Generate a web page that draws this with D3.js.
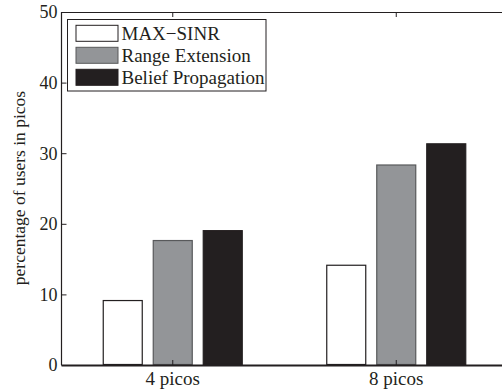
<!DOCTYPE html>
<html>
<head>
<meta charset="utf-8">
<script src="https://cdn.jsdelivr.net/npm/d3@7"></script>
<style>
	body { margin: 0; background: #fff; }
	svg { display: block; }
	text { font-family: "Liberation Serif", "DejaVu Serif", serif; fill: #231f20; }
</style>
</head>
<body>
<svg id="chart" width="502" height="390"></svg>
<script>
// chart data
var categories = ['4 picos', '8 picos'];
var seriesNames = ['MAX\u2212SINR', 'Range Extension', 'Belief Propagation'];
var maxSinr = [9.2, 14.2];
var rangeExt = [17.7, 28.4];
var beliefProp = [19.1, 31.4];
var yTicks = [0, 10, 20, 30, 40, 50];

var seriesValues = [maxSinr, rangeExt, beliefProp];
var fills = ['#ffffff', '#939598', '#231f20'];
var strokes = ['#231f20', '#58595b', '#231f20'];

var svg = d3.select('#chart');
// plot box (right edge runs past the picture, as in the original)
var plotLeft = 61, plotRight = 508, plotTop = 12, plotBottom = 365;

var x = d3.scaleBand().domain(categories).range([plotLeft, plotRight]);
var xInner = d3.scaleBand().domain(seriesNames).range([-75, 75])
	.paddingInner(0.2).paddingOuter(0.1);
var y = d3.scaleLinear().domain([0, 50]).range([plotBottom, plotTop]);

// bars
var rows = [];
for (var i = 0; i < categories.length; i++) {
	for (var j = 0; j < seriesNames.length; j++) {
		rows.push({cat: categories[i], s: j, v: seriesValues[j][i]});
	}
}
svg.append('g').selectAll('rect')
	.data(rows)
	.enter().append('rect')
	.attr('x', function(d) { return x(d.cat) + x.bandwidth() / 2 + xInner(seriesNames[d.s]) + 0.5; })
	.attr('y', function(d) { return y(d.v) + 0.5; })
	.attr('width', xInner.bandwidth() - 1)
	.attr('height', function(d) { return y(0) - y(d.v) - 1; })
	.attr('fill', function(d) { return fills[d.s]; })
	.attr('stroke', function(d) { return strokes[d.s]; })
	.attr('stroke-width', 1.2);

// frame lines
svg.append('line').attr('x1', plotLeft).attr('x2', plotRight).attr('y1', plotTop + 0.5).attr('y2', plotTop + 0.5)
	.attr('stroke', '#231f20').attr('stroke-width', 1);
svg.append('line').attr('x1', plotLeft + 0.5).attr('x2', plotLeft + 0.5).attr('y1', plotTop).attr('y2', plotBottom)
	.attr('stroke', '#231f20').attr('stroke-width', 1.2);

// y axis, ticks point inward
var yAxis = svg.append('g')
	.attr('transform', 'translate(' + (plotLeft + 0.5) + ',0)')
	.call(d3.axisRight(y).tickValues(yTicks).tickSize(5).tickFormat(d3.format('d')));
yAxis.select('.domain').remove();
yAxis.selectAll('line').attr('stroke', '#231f20');
yAxis.selectAll('text')
	.attr('x', -4).attr('text-anchor', 'end').attr('dy', '0.33em')
	.style('font-size', '18px');

// x axis
var xAxis = svg.append('g')
	.attr('transform', 'translate(0,' + plotBottom + ')')
	.call(d3.axisTop(x).tickSize(5).tickSizeOuter(0));
xAxis.select('.domain').attr('stroke', '#231f20').attr('stroke-width', 1.8);
xAxis.selectAll('line').attr('stroke', '#231f20');
xAxis.selectAll('text')
	.attr('y', 20).attr('dy', 0)
	.style('font-size', '19px');

// top ticks
svg.append('g').selectAll('line')
	.data(categories)
	.enter().append('line')
	.attr('x1', function(d) { return x(d) + x.bandwidth() / 2; })
	.attr('x2', function(d) { return x(d) + x.bandwidth() / 2; })
	.attr('y1', plotTop).attr('y2', plotTop + 5)
	.attr('stroke', '#231f20');

// y label
svg.append('text')
	.attr('transform', 'translate(25,188) rotate(-90)')
	.attr('text-anchor', 'middle')
	.style('font-size', '17.5px')
	.text('percentage of users in picos');

// legend
var legend = svg.append('g');
legend.append('rect')
	.attr('x', 67.5).attr('y', 19.5).attr('width', 198.5).attr('height', 71.5)
	.attr('fill', '#fff').attr('stroke', '#231f20').attr('stroke-width', 1);
var item = legend.selectAll('g.item')
	.data(seriesNames)
	.enter().append('g')
	.attr('class', 'item')
	.attr('transform', function(d, i) { return 'translate(0,' + (33.3 + i * 22) + ')'; });
item.append('rect')
	.attr('x', 76).attr('y', -8).attr('width', 42).attr('height', 16)
	.attr('fill', function(d, i) { return fills[i]; })
	.attr('stroke', function(d, i) { return strokes[i]; })
	.attr('stroke-width', 1);
item.append('text')
	.attr('x', 121.5).attr('dy', '0.33em')
	.style('font-size', '19px')
	.text(function(d) { return d; });
</script>
</body>
</html>
